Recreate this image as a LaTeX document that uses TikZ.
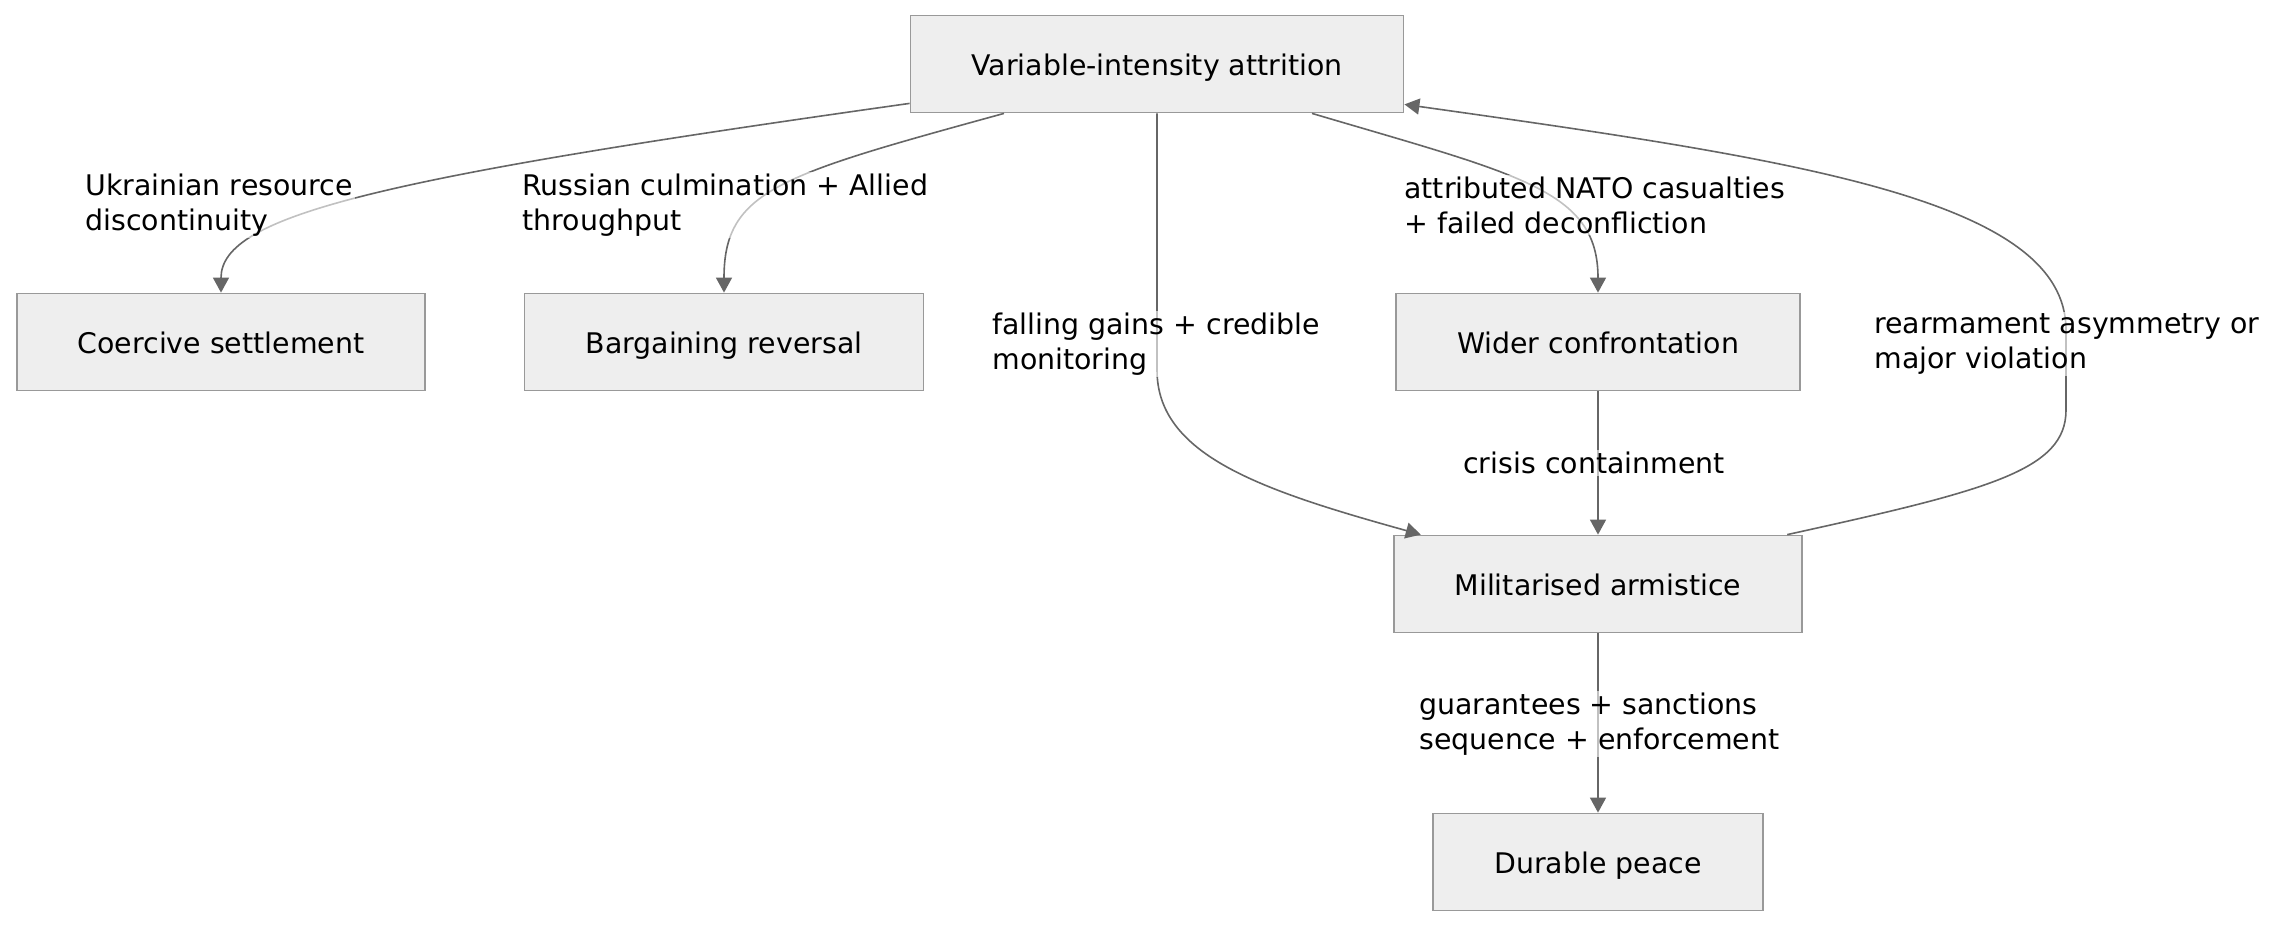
\documentclass[tikz,border=0pt]{standalone}
\usepackage{fontspec}
\setmainfont{DejaVu Sans}
\usetikzlibrary{arrows.meta}
\definecolor{boxfill}{HTML}{EEEEEE}
\definecolor{boxline}{HTML}{999999}
\definecolor{flowline}{HTML}{666666}
\begin{document}
\begin{tikzpicture}[x=0.5pt, y=-0.5pt,
    every node/.style={font=\fontsize{14.2pt}{17.5pt}\selectfont},
    state/.style={draw=boxline, fill=boxfill, line width=0.9pt, minimum height=48.5pt, inner xsep=30.5pt, text height=1.12em, text depth=0pt},
    flow/.style={draw=flowline, line width=0.8pt, -{Triangle[length=7.5pt,width=8pt]}},
    cond/.style={fill=white, fill opacity=0.6, text opacity=1, align=left, anchor=west, inner sep=1pt}]
    \useasboundingbox (0,0) rectangle (2276,928);

    % States
    \node[state] (attr) at (1157,64) {Variable-intensity attrition};
    \node[state] (coer) at (221,342) {Coercive settlement};
    \node[state] (barg) at (724,342) {Bargaining reversal};
    \node[state] (wide) at (1598,342) {Wider confrontation};
    \node[state] (armi) at (1598,584) {Militarised armistice};
    \node[state] (peace) at (1598,862) {Durable peace};

    % Transitions
    \draw[flow] ([yshift=5pt]attr.south west) .. controls (380,178) and (221,215) .. (coer.north);
    \draw[flow] ([xshift=-76.5pt]attr.south) .. controls (780,175) and (724,190) .. (barg.north);
    \draw[flow] (attr.south) -- (1157,370) .. controls (1157,455) and (1260,490) .. ([xshift=14pt]armi.north west);
    \draw[flow] ([xshift=77.5pt]attr.south) .. controls (1520,175) and (1598,190) .. (wide.north);
    \draw[flow] (wide.south) -- (armi.north);
    \draw[flow] ([xshift=-8pt]armi.north east) .. controls (1990,490) and (2066,470) .. (2066,410)
        -- (2066,330) .. controls (2066,200) and (1800,160) .. ([yshift=4.5pt]attr.south east);
    \draw[flow] (armi.south) -- (peace.north);

    % Conditions
    \node[cond] (c1) at (83,205) {Ukrainian resource\\discontinuity};
    \node[cond] (c2) at (520,205) {Russian culmination + Allied\\throughput};
    \node[cond] (c3) at (990,344) {falling gains + credible\\monitoring};
    \node[cond] (c4) at (1402,205) {attributed NATO casualties\\+ failed deconfliction};
    \node[cond] (c5) at (1872,344) {rearmament asymmetry or\\major violation};
    \node[cond, anchor=center] (c6) at (1594,463) {crisis containment};
    \node[cond] (c7) at (1417,724) {guarantees + sanctions\\sequence + enforcement};
\end{tikzpicture}
\end{document}
